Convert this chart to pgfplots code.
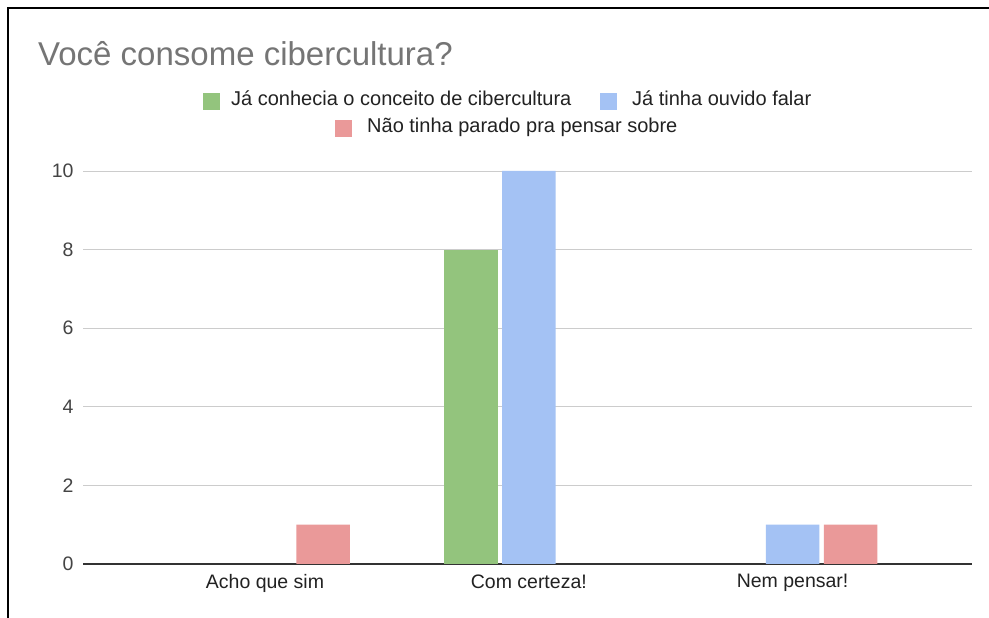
\documentclass[border=0pt]{standalone}
\usepackage{pgfplots}
\pgfplotsset{compat=1.18}
\usepackage{fontspec}
\setmainfont{Liberation Sans}
\definecolor{cgreen}{HTML}{93C47D}
\definecolor{cblue}{HTML}{A4C2F4}
\definecolor{cred}{HTML}{EA9999}
\definecolor{ctitle}{HTML}{757575}
\definecolor{ctick}{HTML}{444444}
\definecolor{clabel}{HTML}{222222}
\definecolor{cgrid}{HTML}{CCCCCC}
\definecolor{cbase}{HTML}{333333}
\begin{document}
\begin{tikzpicture}[x=1pt,y=1pt]
\useasboundingbox (0,0) rectangle (989,618);
\fill[white] (0,0) rectangle (989,618);
\begin{axis}[
  at={(83pt,54pt)}, anchor=south west,
  width=889pt, height=393pt, scale only axis,
  xmin=-0.69, xmax=2.68, ymin=0, ymax=10,
  ybar, bar width=0.203,
  axis x line*=bottom, axis y line*=left,
  x axis line style={draw=cbase, line width=1.6pt, -},
  y axis line style={draw=none},
  xtick={0,1,2},
  xticklabels={Acho que sim, Com certeza!, Nem pensar!},
  ytick={0,2,4,6,8,10},
  ymajorgrids, major grid style={cgrid, line width=0.9pt},
  major tick length=0pt,
  tick label style={font=\fontsize{19.5}{22}\selectfont},
  yticklabel style={color=ctick, xshift=-6pt},
  xticklabel style={color=clabel, yshift=-7pt},
  /pgf/number format/assume math mode=true,
  clip=false,
]
\addplot[fill=cgreen, draw=none, bar shift=-0.22] coordinates {(1,8)};
\addplot[fill=cblue, draw=none, bar shift=0] coordinates {(1,10) (2,1)};
\addplot[fill=cred, draw=none, bar shift=0.22] coordinates {(0,1) (2,1)};
\end{axis}
% title
\node[anchor=base west, inner sep=0, text=ctitle, font=\fontsize{33}{38}\selectfont] at (38,552) {Você consome cibercultura?};
% legend
\begin{scope}[every node/.style={anchor=west, inner sep=0, text height=0.72em, text depth=0pt, text=clabel, font=\fontsize{20}{23}\selectfont}]
\fill[cgreen] (203,508) rectangle (220,525);
\node at (231,516.5) {Já conhecia o conceito de cibercultura};
\fill[cblue] (600,508) rectangle (617,525);
\node at (632,516.5) {Já tinha ouvido falar};
\fill[cred] (335,481) rectangle (352,498);
\node at (367,489.5) {Não tinha parado pra pensar sobre};
\end{scope}
% frame
\draw[black, line width=2pt] (8,0) -- (8,610) -- (989,610);
\end{tikzpicture}
\end{document}
